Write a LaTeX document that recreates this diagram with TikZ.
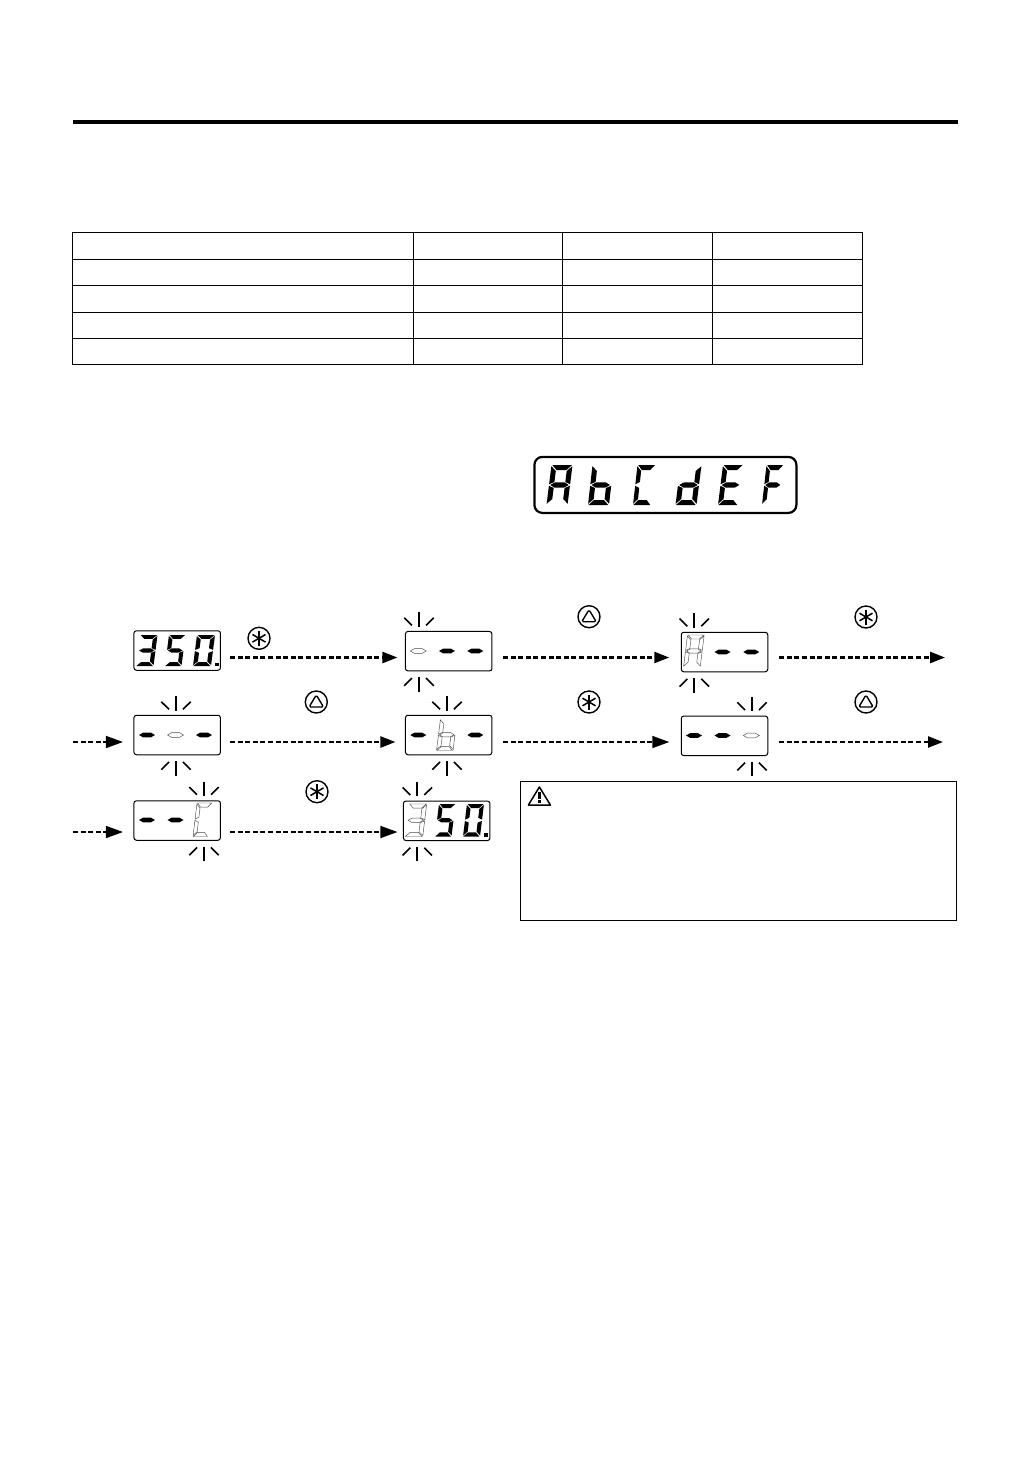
\documentclass[tikz,border=0pt]{standalone}
\usetikzlibrary{arrows.meta,calc}
% seven-segment shapes in unit space (u across, v up)
\def\sega{(0.04,1)--(0.98,1)--(0.74,0.875)--(0.27,0.875)--cycle}
\def\segd{(0.02,0)--(0.96,0)--(0.73,0.125)--(0.26,0.125)--cycle}
\def\segg{(0.06,0.5)--(0.27,0.565)--(0.73,0.565)--(0.94,0.5)--(0.73,0.435)--(0.27,0.435)--cycle}
\def\segf{(0,0.97)--(0.24,0.85)--(0.24,0.575)--(0,0.52)--cycle}
\def\sege{(0,0.03)--(0.24,0.15)--(0.24,0.425)--(0,0.48)--cycle}
\def\segb{(1,0.97)--(0.76,0.85)--(0.76,0.575)--(1,0.52)--cycle}
\def\segc{(1,0.03)--(0.76,0.15)--(0.76,0.425)--(1,0.48)--cycle}
\tikzset{
  lit/.style={fill=black,draw=none},
  unlit/.style={draw=black!70,line width=0.45pt,fill=white},
  panel/.style={draw=black,line width=1pt,rounded corners=2.5pt,minimum width=86.5pt,minimum height=39.5pt,inner sep=0pt,outer sep=0pt,fill=white},
  bigpanel/.style={draw=black,line width=2.2pt,rounded corners=8pt,minimum width=262pt,minimum height=56pt,inner sep=0pt,outer sep=0pt},
  iconring/.style={circle,draw=black,line width=1.4pt,minimum size=22pt,inner sep=0pt,outer sep=0pt},
  boldarrow/.style={line width=2.4pt,dash pattern=on 5pt off 2.6pt,-{Triangle[length=15pt,width=11pt]}},
  thinarrow/.style={line width=1.6pt,dash pattern=on 5pt off 2.6pt,-{Triangle[length=17pt,width=12pt]}},
  tick/.style={line width=1.6pt,line cap=butt},
  rule/.style={draw=black,line width=1pt},
  notebox/.style={draw=black,line width=1pt,minimum width=436.5pt,minimum height=138.5pt,inner sep=0pt,outer sep=0pt},
}
% digit: x0, y of base, W, H, slant, style, segments
\newcommand\digit[7]{%
  \begin{scope}[shift={(#1,#2)},x={(#3pt,0pt)},y={(#5pt,#4pt)}]
    \foreach \sg in {#7}{%
      \expandafter\let\expandafter\curseg\csname seg\sg\endcsname
      \path[#6] \curseg;
    }
  \end{scope}}
\newcommand\lens[3]{\path[#1] (#2-8,#3)--(#2-4,#3-2.3)--(#2+4,#3-2.3)--(#2+8,#3)--(#2+4,#3+2.3)--(#2-4,#3+2.3)--cycle;}
\newcommand\blink[3]{% centre x, panel top, panel bottom
  \draw[tick] (#1,#2-19)--(#1,#2-4.6);
  \draw[tick] (#1-14.4,#2-13.6)--(#1-6.7,#2-6);
  \draw[tick] (#1+7.3,#2-6)--(#1+15,#2-13.6);
  \draw[tick] (#1,#3+6.4)--(#1,#3+20.8);
  \draw[tick] (#1-14.4,#3+14.8)--(#1-6.7,#3+7.1);
  \draw[tick] (#1+7.3,#3+7.1)--(#1+15,#3+14.8);}
\newcommand\staricon[3]{%
  \node[iconring] (#1) at (#2,#3) {};
  \draw[line width=1.5pt] ($(#1.center)+(0,-7.5)$)--($(#1.center)+(0,7.5)$);
  \draw[line width=1.5pt] ($(#1.center)+(-6.5,-3.8)$)--($(#1.center)+(6.5,3.8)$);
  \draw[line width=1.5pt] ($(#1.center)+(-6.5,3.8)$)--($(#1.center)+(6.5,-3.8)$);}
\newcommand\triicon[3]{%
  \node[iconring] (#1) at (#2,#3) {};
  \draw[line width=1.4pt,rounded corners=1.5pt,line join=round] ($(#1.center)+(0,-7)$)--($(#1.center)+(7.2,5)$)--($(#1.center)+(-7.2,5)$)--cycle;}
\begin{document}
\begin{tikzpicture}[x=1pt,y=-1pt]
\useasboundingbox (0,0) rectangle (1032,1457);
\fill[white] (0,0) rectangle (1032,1457);

% heading rule
\draw[line width=3.6pt] (73,122)--(958,122);

% table
\draw[rule] (72.5,232.5) rectangle (862.5,364.5);
\foreach \ty in {259.5,285.5,312.5,338.5} \draw[rule] (72.5,\ty)--(862.5,\ty);
\foreach \tx in {413.5,562.5,712.5} \draw[rule] (\tx,232.5)--(\tx,364.5);

% large display
\node[bigpanel] (big) at (665.4,484.9) {};
\digit{546.5}{505}{21}{40}{5}{lit}{a,b,c,e,f,g}
\digit{588}{505}{21}{40}{4.5}{lit}{c,d,e,f,g}
\digit{633}{505}{18}{40}{4.5}{lit}{a,d,e,f}
\digit{675.5}{505}{21}{40}{5}{lit}{b,c,d,e,g}
\digit{718}{505}{20}{40}{5}{lit}{a,d,e,f,g}
\digit{762}{505}{17}{40}{4.5}{lit}{a,e,f,g}

% panels
\node[panel] (d1) at (177.2,650.5) {};
\node[panel] (d2) at (448.7,651.2) {};
\node[panel] (d3) at (724.5,652) {};
\node[panel] (d4) at (177.2,735) {};
\node[panel] (d5) at (448.7,735) {};
\node[panel] (d6) at (724.5,735.8) {};
\node[panel] (d7) at (177.2,820.5) {};
\node[panel] (d8) at (446.7,820.8) {};

% panel contents
\digit{136}{666}{17.5}{31}{4}{lit}{a,b,c,d,g}
\digit{165}{666}{16.5}{31}{4}{lit}{a,c,d,f,g}
\digit{193}{666}{18}{31}{4}{lit}{a,b,c,d,e,f}
\fill (215.3,662.8) rectangle (218.5,666);

\lens{unlit}{418.3}{651}\lens{lit}{447}{651}\lens{lit}{475.3}{651}

\digit{683.5}{667}{16.7}{32}{4}{unlit}{a,b,c,e,f,g}
\lens{lit}{722.5}{652}\lens{lit}{751.3}{652}

\lens{lit}{147}{735}\lens{unlit}{175.5}{735}\lens{lit}{204}{735}

\lens{lit}{418.3}{735}\lens{lit}{475.3}{735}
\digit{436.5}{750.5}{16.5}{31.5}{4}{unlit}{c,d,e,f,g}

\lens{lit}{694}{735.5}\lens{lit}{722.5}{735.5}\lens{unlit}{751.3}{735.5}

\lens{lit}{147}{820}\lens{lit}{175.5}{820}
\digit{193}{836.5}{15}{33.5}{4}{unlit}{a,d,e,f}

\digit{405}{836.5}{17.7}{32.5}{4}{unlit}{a,b,c,d,g}
\digit{435}{836.5}{16.5}{32.5}{4}{lit}{a,c,d,f,g}
\digit{463}{836.5}{17}{32.5}{4}{lit}{a,b,c,d,e,f}
\fill (484.3,833.3) rectangle (487.5,836.5);

% blink marks
\blink{418.7}{631.4}{671}
\blink{694}{632.2}{671.8}
\blink{175.7}{715.3}{754.8}
\blink{446.7}{715.3}{754.8}
\blink{751.7}{716}{755.6}
\blink{203.7}{800.7}{840.3}
\blink{417}{801}{840.6}

% icons
\staricon{k1}{259}{638.3}
\triicon{k2}{589}{616.7}
\staricon{k3}{866}{617}
\triicon{k4}{316.3}{702}
\staricon{k5}{589}{702}
\triicon{k6}{866}{702}
\staricon{k7}{317}{791.7}

% connectors
\coordinate (outA) at (945,657.5);
\coordinate (outB) at (943,742);
\coordinate (inB) at (73,742);
\coordinate (inC) at (73,832);
\draw[boldarrow] ([shift={(9.5,7)}]d1.east)--([shift={(-8,6.3)}]d2.west);
\draw[boldarrow] ([shift={(11,6.3)}]d2.east)--([shift={(-12,5.5)}]d3.west);
\draw[boldarrow] ([shift={(11.5,5.5)}]d3.east)--(outA);
\draw[thinarrow] (inB)--([shift={(-11,7)}]d4.west);
\draw[boldarrow] ([shift={(9.5,7)}]d4.east)--([shift={(-10,7)}]d5.west);
\draw[thinarrow] ([shift={(11,7)}]d5.east)--([shift={(-12,6.2)}]d6.west);
\draw[boldarrow] ([shift={(11.5,6.2)}]d6.east)--(outB);
\draw[thinarrow] (inC)--([shift={(-11,11.5)}]d7.west);
\draw[thinarrow] ([shift={(9.5,11.5)}]d7.east)--([shift={(-6,11.2)}]d8.west);

% caution box
\node[notebox] (note) at (738.3,851.2) {};
\coordinate (w) at (539.4,796.5);
\draw[line width=1.5pt,line join=round] ($(w)+(-11,8.5)$)--($(w)+(0,-9.5)$)--($(w)+(11,8.5)$)--cycle;
\fill ($(w)+(-1.3,-4.5)$) rectangle ($(w)+(1.3,2.5)$);
\fill ($(w)+(-1.3,3.8)$) rectangle ($(w)+(1.3,6.3)$);
\end{tikzpicture}
\end{document}
